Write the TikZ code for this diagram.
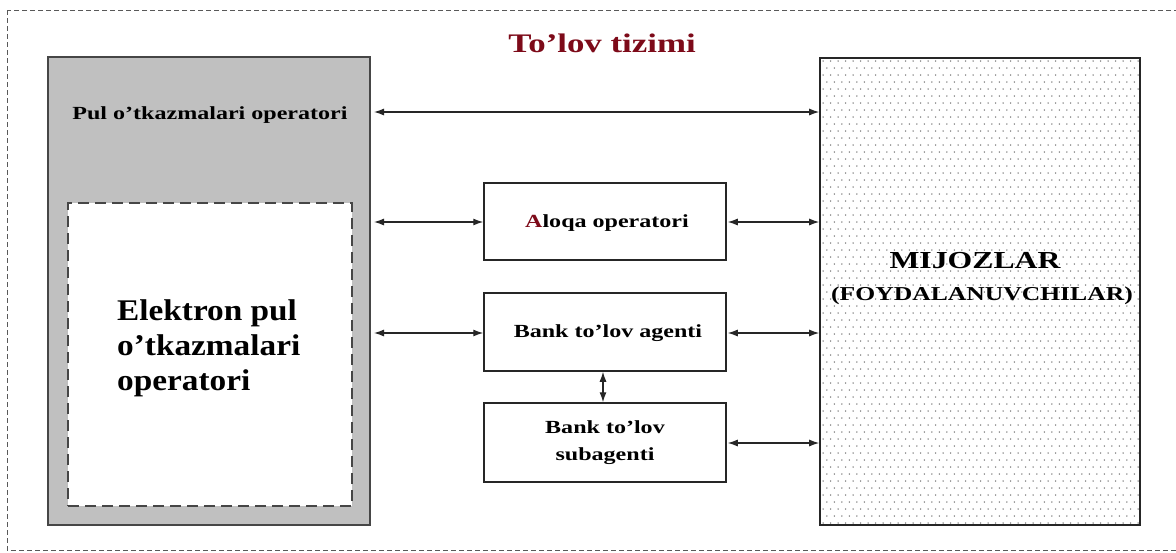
\documentclass[tikz,border=0pt]{standalone}
\usepackage{fontspec}
\setmainfont[FakeStretch=1.3]{Liberation Serif}
\newfontfamily\narrowserif[FakeStretch=1.11]{Liberation Serif}
\usetikzlibrary{arrows.meta}
\definecolor{darkred}{RGB}{125,10,25}
\definecolor{boxgrey}{RGB}{192,192,192}
\definecolor{edgegrey}{RGB}{70,70,70}
\definecolor{dotgrey}{RGB}{105,105,105}
\begin{document}
\begin{tikzpicture}[x=1pt,y=-1pt,
  arr/.style={{Latex[length=10pt,width=7pt]}-{Latex[length=10pt,width=7pt]}, line width=1.2pt, draw=black!85},
  midbox/.style={draw=black!85, line width=1.5pt, fill=white, minimum width=242pt, inner sep=0pt},
  txt/.style={font=\bfseries\fontsize{18.5}{27}\selectfont, inner sep=0pt, anchor=base}
]
\useasboundingbox (0,0) rectangle (1176,552);
\clip (0,0) rectangle (1176,552);
\fill[white] (0,0) rectangle (1176,552);
\draw[dash pattern=on 5pt off 3pt, gray!70!black, line width=0.9pt] (7,10) rectangle (1185,550);

% left operator box
\node[draw=edgegrey, line width=2pt, fill=boxgrey, minimum width=322pt, minimum height=468pt, inner sep=0pt] (pto) at (209,291) {};
\node[draw=edgegrey, dash pattern=on 11pt off 6pt, line width=2.5pt, fill=white, minimum width=284pt, minimum height=303pt, inner sep=0pt] (epo) at (210,354.5) {};

% clients box with dots
\begin{scope}
\clip (821,59) rectangle (1139,524);
\foreach \r in {0,...,67} {
  \foreach \c in {0,...,43} {
    \fill[dotgrey] ({823+\c*7.5+mod(\r,2)*3.75},{61+\r*7}) circle (0.75);
  }
}
\end{scope}
\node[draw=black!85, line width=1.6pt, minimum width=320pt, minimum height=467pt, inner sep=0pt] (mij) at (980,291.5) {};

% middle boxes
\node[midbox, minimum height=77pt] (alo) at (605,221.5) {};
\node[midbox, minimum height=78pt] (agt) at (605,332) {};
\node[midbox, minimum height=79pt] (sub) at (605,442.5) {};

% texts
\node[font=\bfseries\fontsize{26.8}{30}\selectfont, text=darkred, inner sep=0pt, anchor=base] (title) at (602,52) {To’lov tizimi};
\node[txt] (pultxt) at (210,119) {Pul o’tkazmalari operatori};
\node[txt] (alotxt) at (607,227) {\textcolor{darkred}{A}loqa operatori};
\node[txt] (agttxt) at (608,337) {Bank to’lov agenti};
\node[txt, anchor=center, align=center] (subtxt) at (sub.center) {Bank to’lov\\subagenti};
\node[font=\narrowserif\bfseries\fontsize{30}{35}\selectfont, inner sep=0pt, anchor=base west, align=left] (epotxt) at (117,390) {Elektron pul\\o’tkazmalari\\operatori};
\node[font=\bfseries\fontsize{24.4}{28}\selectfont, inner sep=0pt, anchor=base] (mijtxt) at (975,268) {MIJOZLAR};
\node[font=\bfseries\fontsize{19.7}{24}\selectfont, inner sep=0pt, anchor=base] (foytxt) at (982,300.5) {(FOYDALANUVCHILAR)};

% connectors
\coordinate (yA) at (0,112);
\coordinate (yB) at (0,222);
\coordinate (yC) at (0,333);
\coordinate (yD) at (0,443);
\coordinate (xV) at (603,0);
\draw[arr, shorten <=3pt] (pto.east |- yA) -- (mij.west |- yA);
\draw[arr, shorten <=3pt] (pto.east |- yB) -- (alo.west |- yB);
\draw[arr, shorten <=1pt] (alo.east |- yB) -- (mij.west |- yB);
\draw[arr, shorten <=3pt] (pto.east |- yC) -- (agt.west |- yC);
\draw[arr, shorten <=1pt] (agt.east |- yC) -- (mij.west |- yC);
\draw[arr, shorten <=1pt] (sub.east |- yD) -- (mij.west |- yD);
\draw[arr] (agt.south -| xV) -- (sub.north -| xV);
\end{tikzpicture}
\end{document}
